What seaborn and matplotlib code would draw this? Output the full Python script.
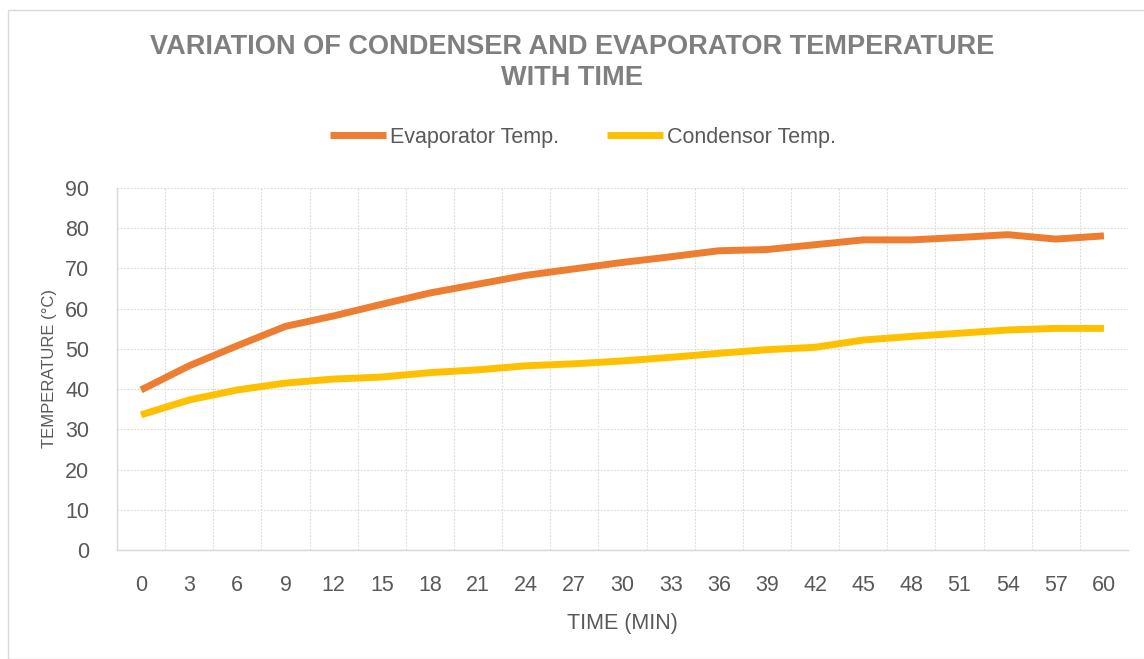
import matplotlib
matplotlib.use("Agg")
import matplotlib.pyplot as plt
import numpy as np
import pandas as pd
import seaborn as sns
from matplotlib.patches import Rectangle
from matplotlib.ticker import MultipleLocator, FixedLocator

# Data
time_min = [0, 3, 6, 9, 12, 15, 18, 21, 24, 27, 30, 33, 36, 39, 42, 45, 48, 51, 54, 57, 60]
evaporator_temp = [39.8, 45.8, 50.8, 55.6, 58.2, 61.1, 63.9, 66.1, 68.3, 69.9, 71.5,
                   72.9, 74.4, 74.7, 75.9, 77.1, 77.1, 77.7, 78.4, 77.3, 78.1]
condensor_temp = [33.6, 37.3, 39.8, 41.5, 42.5, 43.0, 44.1, 44.8, 45.8, 46.3, 47.0,
                  47.9, 48.9, 49.8, 50.4, 52.2, 53.1, 53.9, 54.7, 55.1, 55.1]
series_names = ["Evaporator Temp.", "Condensor Temp."]
series_colors = ["#ED7D31", "#FFC000"]

df = pd.DataFrame({
    "time": time_min * 2,
    "temp": evaporator_temp + condensor_temp,
    "series": [series_names[0]] * len(time_min) + [series_names[1]] * len(time_min),
})

sns.set_style("white")
plt.rcParams["font.family"] = ["Liberation Sans", "DejaVu Sans"]
plt.rcParams["lines.solid_capstyle"] = "butt"
plt.rcParams["lines.solid_joinstyle"] = "round"

fig = plt.figure(figsize=(11.44, 6.59), dpi=100)
ax = fig.add_axes([117 / 1144, 1 - 550 / 659, (1128 - 117) / 1144, (550 - 188) / 659])

sns.lineplot(data=df, x="time", y="temp", hue="series", palette=series_colors,
             linewidth=5, ax=ax, legend=True)

ax.set_xlim(-1.5, 61.5)
ax.set_ylim(0, 90)
ax.xaxis.set_major_locator(FixedLocator(time_min))
ax.xaxis.set_minor_locator(FixedLocator(np.arange(-1.5, 62, 3)))
ax.yaxis.set_major_locator(MultipleLocator(10))

grid_kw = dict(color="#D9D9D9", linestyle=(0, (1.5, 1.5)), linewidth=0.8)
ax.grid(True, which="major", axis="y", **grid_kw)
ax.grid(True, which="minor", axis="x", **grid_kw)
ax.grid(False, which="major", axis="x")
ax.tick_params(axis="both", which="both", length=0, labelsize=15.5, colors="#595959")
ax.tick_params(axis="x", pad=18)
ax.tick_params(axis="y", pad=20)

for side in ["top", "right"]:
    ax.spines[side].set_visible(False)
for side in ["left", "bottom"]:
    ax.spines[side].set_color("#D9D9D9")
    ax.spines[side].set_linewidth(1.0)

ax.set_xlabel("TIME (MIN)", fontsize=15.5, color="#595959", labelpad=12)
ax.set_ylabel("TEMPERATURE (°C)", fontsize=12, color="#595959", labelpad=6)

handles, labels = ax.get_legend_handles_labels()
leg = fig.legend(handles, labels, loc="center", bbox_to_anchor=(583 / 1144, 1 - 137 / 659),
                 ncol=2, frameon=False, fontsize=15.5, handlelength=2.6, handletextpad=0.2,
                 columnspacing=2.2, labelcolor="#595959")
ax.get_legend().remove()

fig.text(0.5, 1 - 47 / 659, "VARIATION OF CONDENSER AND EVAPORATOR TEMPERATURE",
         ha="center", va="center", fontsize=19.5, fontweight="bold", color="#7F7F7F")
fig.text(0.5, 1 - 78 / 659, "WITH TIME",
         ha="center", va="center", fontsize=19.5, fontweight="bold", color="#7F7F7F")

# chart frame like the spreadsheet chart area
fig.patches.append(Rectangle((8 / 1144, 0), 1, 1 - 10 / 659, transform=fig.transFigure,
                             fill=False, edgecolor="#D9D9D9", linewidth=1.0))

fig.savefig("out.png", dpi=100)
